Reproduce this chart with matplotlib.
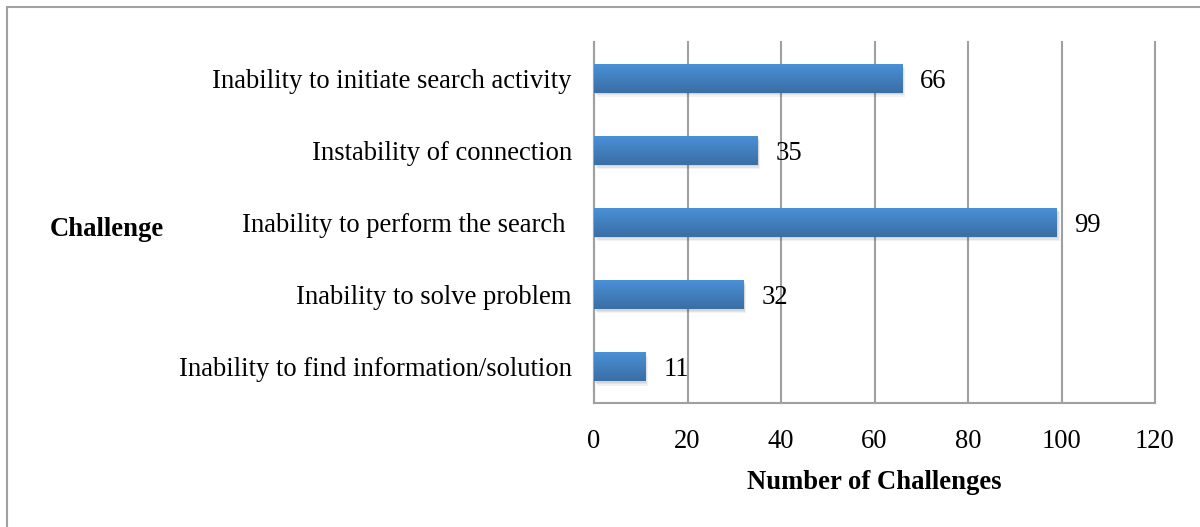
import matplotlib
matplotlib.use("Agg")
import matplotlib.pyplot as plt
import numpy as np
from matplotlib.patches import Rectangle
from matplotlib.colors import LinearSegmentedColormap

categories = ["Inability to find information/solution",
              "Inability to solve problem",
              "Inability to perform the search ",
              "Instability of connection",
              "Inability to initiate search activity"]
values = [11, 32, 99, 35, 66]
xticks = [0, 20, 40, 60, 80, 100, 120]

plt.rcParams['font.family'] = ['Liberation Serif', 'DejaVu Serif']
FS = 19.2

W, H = 1200, 527
fig = plt.figure(figsize=(W/100, H/100), dpi=100)
ax = fig.add_axes([594/W, 1 - 403/H, (1155-594)/W, (403-42)/H])

# figure border
fig.patches.append(Rectangle((7/W, -0.1), 1.2, 1 - 7/H + 0.1, transform=fig.transFigure,
                             fill=False, edgecolor='#a0a0a0', linewidth=1.5))

bh = 0.4
grad = np.linspace(0, 1, 64).reshape(-1, 1)
cmap = LinearSegmentedColormap.from_list('g', ['#3a6ea6', '#4a90d6'])
for i, v in enumerate(values):
    for k, a in enumerate([0.06, 0.06, 0.05]):
        d = 0.02 * (k + 1)
        ax.add_patch(Rectangle((0.2 + 0.2 * k, i - bh/2 - d), v, bh, facecolor='#000000',
                               alpha=a, edgecolor='none', zorder=2))
    ax.imshow(grad, extent=(0, v, i - bh/2, i + bh/2), origin='lower',
              cmap=cmap, aspect='auto', zorder=3)
    ax.text(v + 3.8, i, str(v), va='center_baseline', ha='left', fontsize=FS, zorder=4)
ax.set_aspect('auto')
ax.set_xlim(0, 120)
ax.set_ylim(-0.5, len(categories) - 0.5)

ax.set_xticks(xticks)
ax.set_xticklabels([str(t) for t in xticks], fontsize=FS)
ax.set_yticks(range(len(categories)))
ax.set_yticklabels(categories, fontsize=FS)
ax.tick_params(axis='both', length=0)
ax.tick_params(axis='x', pad=19)
ax.tick_params(axis='y', pad=16)
ax.grid(axis='x', color='#a0a0a0', linewidth=1.5, zorder=0)
for gl in ax.get_xgridlines():
    gl.set_clip_on(False)
ax.set_axisbelow(True)
for s in ['top', 'right']:
    ax.spines[s].set_visible(False)
ax.spines['left'].set_color('#a0a0a0')
ax.spines['bottom'].set_color('#a0a0a0')
ax.spines['left'].set_linewidth(1.5)
ax.spines['bottom'].set_linewidth(1.5)

ax.set_xlabel("Number of Challenges", fontsize=FS, fontweight='bold', labelpad=11)
fig.text(50/W, 1 - 226/H, "Challenge", fontsize=FS, fontweight='bold',
         va='center_baseline', ha='left')

fig.savefig("out.png", dpi=100)
